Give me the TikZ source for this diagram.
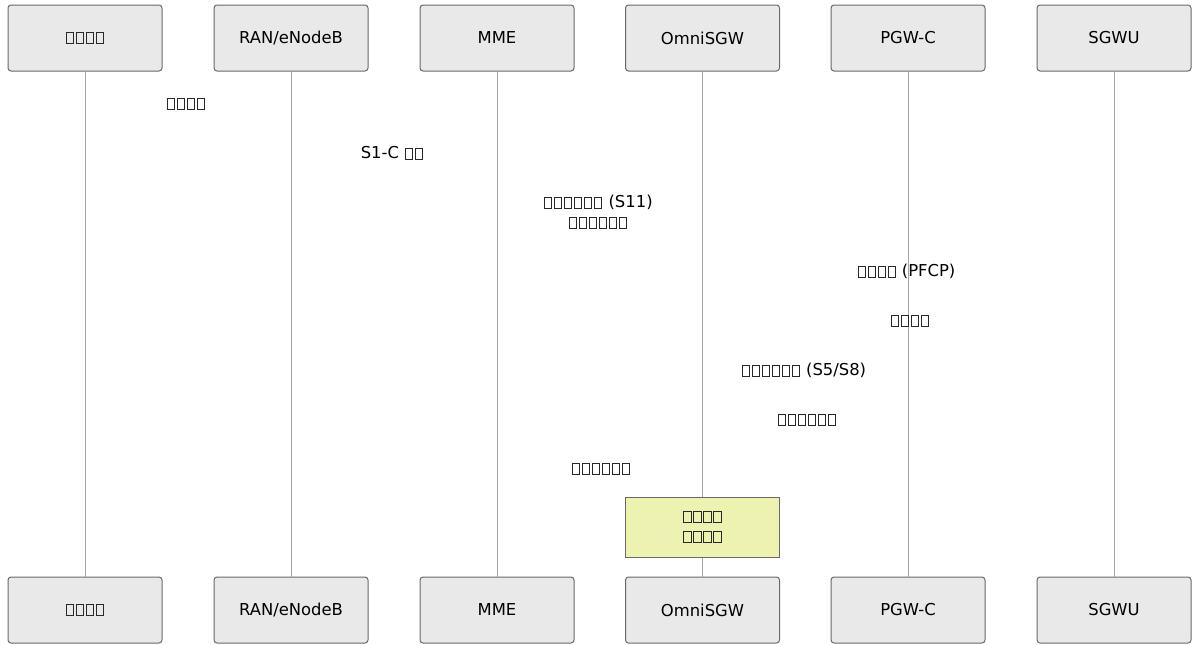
\documentclass[tikz,border=0pt]{standalone}
\usepackage{fontspec}
\setmainfont{DejaVu Sans}
\usetikzlibrary{positioning}

\definecolor{boxfill}{RGB}{233,233,233}
\definecolor{boxline}{RGB}{105,105,105}
\definecolor{lifegray}{RGB}{165,165,165}
\definecolor{notefill}{RGB}{237,242,176}
\definecolor{tofugray}{RGB}{40,40,40}

% glyph-less character, as the picture prints it
\newcommand{\tofu}{\kern.06em\raisebox{-.05em}{\color{tofugray}\setlength\fboxsep{0pt}\setlength\fboxrule{.055em}\fbox{\rule{0pt}{.64em}\rule{.38em}{0pt}}}\kern.06em}

\begin{document}
\begin{tikzpicture}[
      x=1pt, y=-1pt,
      font=\fontsize{16.4}{20}\selectfont,
      party/.style={draw=boxline, line width=1pt, fill=boxfill, rounded corners=3pt,
        align=center, minimum width=154pt, minimum height=66pt, inner sep=0pt},
      msg/.style={align=center, inner sep=0pt},
      note/.style={draw=boxline, line width=1pt, fill=notefill, align=center,
        minimum width=154pt, minimum height=60pt, inner sep=0pt},
      lifeline/.style={draw=lifegray, line width=0.9pt}
    ]
    \useasboundingbox (0,0) rectangle (1192,645);
    % participants, top row
    \node[party] (ue)   at (85,38)    {\tofu\tofu\tofu\tofu};
    \node[party] (ran)  at (291,38)   {RAN/eNodeB};
    \node[party] (mme)  at (497,38)   {MME};
    \node[party] (sgw)  at (702.5,38) {OmniSGW};
    \node[party] (pgwc) at (908,38)   {PGW-C};
    \node[party] (sgwu) at (1114,38)  {SGWU};
    % participants, bottom row
    \node[party] (ue-b)   at (85,610)    {\tofu\tofu\tofu\tofu};
    \node[party] (ran-b)  at (291,610)   {RAN/eNodeB};
    \node[party] (mme-b)  at (497,610)   {MME};
    \node[party] (sgw-b)  at (702.5,610) {OmniSGW};
    \node[party] (pgwc-b) at (908,610)   {PGW-C};
    \node[party] (sgwu-b) at (1114,610)  {SGWU};
    % lifelines
    \draw[lifeline] (ue) -- (ue-b);
    \draw[lifeline] (ran) -- (ran-b);
    \draw[lifeline] (mme) -- (mme-b);
    \draw[lifeline] (sgw) -- (sgw-b);
    \draw[lifeline] (pgwc) -- (pgwc-b);
    \draw[lifeline] (sgwu) -- (sgwu-b);
    % messages
    \node[msg] (m1) at (186,104) {\tofu\tofu\tofu\tofu};
    \node[msg] (m2) at (392.5,153) {S1-C \tofu\tofu};
    \node[msg] (m3) at (598,212) {\tofu\tofu\tofu\tofu\tofu\tofu{} (S11)\\\tofu\tofu\tofu\tofu\tofu\tofu};
    \node[msg] (m4) at (906,271) {\tofu\tofu\tofu\tofu{} (PFCP)};
    \node[msg] (m5) at (910,321) {\tofu\tofu\tofu\tofu};
    \node[msg] (m6) at (803.5,370) {\tofu\tofu\tofu\tofu\tofu\tofu{} (S5/S8)};
    \node[msg] (m7) at (807,420) {\tofu\tofu\tofu\tofu\tofu\tofu};
    \node[msg] (m8) at (601,469) {\tofu\tofu\tofu\tofu\tofu\tofu};
    % note on OmniSGW
    \node[note] (sgwnote) at (702.5,527) {\tofu\tofu\tofu\tofu\\\tofu\tofu\tofu\tofu};
\end{tikzpicture}
\end{document}
